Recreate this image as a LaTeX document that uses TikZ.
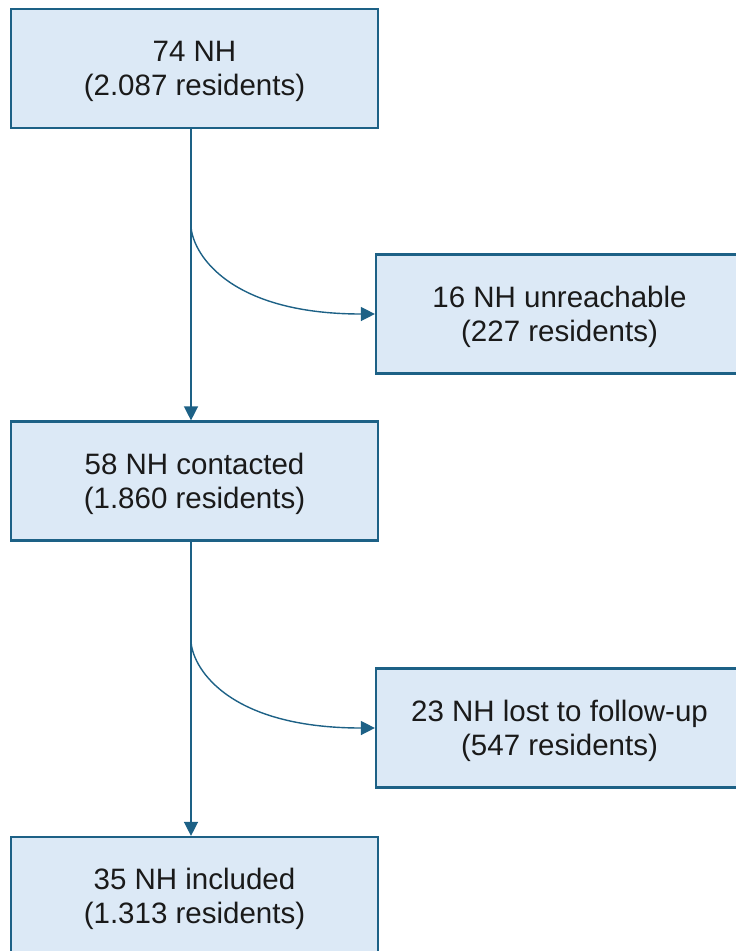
\documentclass[tikz,border=0pt]{standalone}
\usepackage{fontspec}
\setmainfont{Liberation Sans}
\usetikzlibrary{arrows.meta}
\definecolor{edgeblue}{HTML}{1D6186}
\definecolor{boxfill}{HTML}{DCE9F6}
\definecolor{txt}{HTML}{1A1A1A}
\newcommand{\twoline}[2]{\raisebox{0pt}[\dimexpr\height+7pt\relax][\depth]{\begin{tabular}{@{}c@{}}#1\\#2\end{tabular}}}
\begin{document}
\begin{tikzpicture}[x=1pt,y=-1pt,
  flowbox/.style={draw=edgeblue,fill=boxfill,line width=2.2pt,minimum width=367pt,minimum height=119pt,inner sep=0pt,text=txt,font=\fontsize{29.5}{34}\selectfont},
  conn/.style={draw=edgeblue,line width=1.4pt,-{Triangle[length=14pt,width=14pt]}}]
\useasboundingbox (0,0) rectangle (736,951);
\clip (0,0) rectangle (736,951);
\node[flowbox] (top) at (194.5,68.5) {\twoline{74 NH}{(2.087 residents)}};
\node[flowbox] (r1) at (559.5,314) {\twoline{16 NH unreachable}{(227 residents)}};
\node[flowbox] (mid) at (194.5,481) {\twoline{58 NH contacted}{(1.860 residents)}};
\node[flowbox] (r2) at (559.5,728) {\twoline{23 NH lost to follow-up}{(547 residents)}};
\node[flowbox] (bot) at (194.5,896.5) {\twoline{35 NH included}{(1.313 residents)}};
\coordinate (c1) at (191,225);
\coordinate (c2) at (191,640);
\draw[conn] ([xshift=-3.5pt]top.south) -- ([xshift=-3.5pt]mid.north);
\draw[conn] ([xshift=-3.5pt]mid.south) -- ([xshift=-3.5pt]bot.north);
\draw[conn] (c1) .. controls +(0,25) and +(-150,0) .. (r1.west);
\draw[conn] (c2) .. controls +(0,25) and +(-150,0) .. (r2.west);
\end{tikzpicture}
\end{document}
